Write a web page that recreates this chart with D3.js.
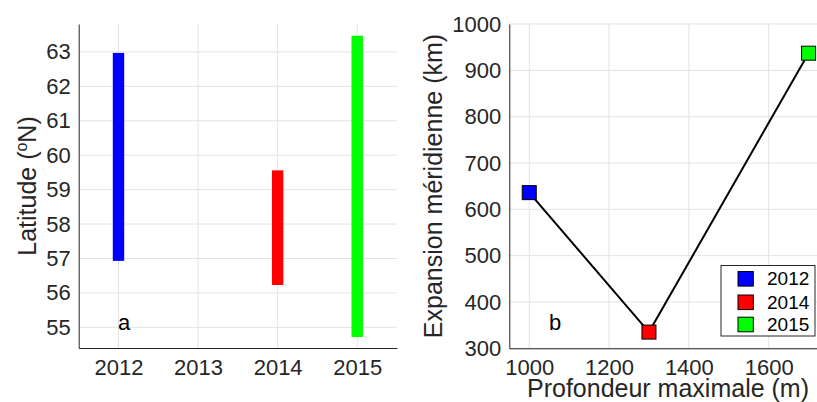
<!DOCTYPE html>
<html><head><meta charset="utf-8">
<script src="https://cdn.jsdelivr.net/npm/d3@7"></script>
<style>body{margin:0;background:#fff}svg{display:block}text{font-family:"Liberation Sans",Arial,Helvetica,sans-serif}</style>
</head><body>
<script>
// ---- data ----
const years = [2012, 2014, 2015];
const colors = ["#0000ff", "#ff0000", "#00ff00"];
const latMin = [56.93, 56.23, 54.72];
const latMax = [62.97, 59.56, 63.47];
const depth = [1000, 1300, 1700];
const expansion = [636, 335, 937];
const yearTicks = [2012, 2013, 2014, 2015];
const latTicks = [55, 56, 57, 58, 59, 60, 61, 62, 63];
const depthTicks = [1000, 1200, 1400, 1600];
const expTicks = [300, 400, 500, 600, 700, 800, 900, 1000];

const W = 817, H = 402;
const svg = d3.select("body").append("svg").attr("width", W).attr("height", H);
const axisColor = "#262626", gridColor = "#e3e3e3";

function styleAxis(g) {
  g.selectAll("path.domain").attr("stroke", axisColor).attr("stroke-width", 1);
  g.selectAll("text").attr("fill", axisColor).attr("font-size", 22)
    .attr("font-family", '"Liberation Sans",Arial,Helvetica,sans-serif');
}

// ---- panel a ----
const xa = d3.scaleLinear().domain([2011.5, 2015.5]).range([78.7, 397]);
const ya = d3.scaleLinear().domain([54.4, 63.81]).range([348, 24]);
const ga = svg.append("g");
ga.append("g").selectAll("line").data(yearTicks).join("line")
  .attr("x1", d => xa(d)).attr("x2", d => xa(d)).attr("y1", ya.range()[0]).attr("y2", ya.range()[1])
  .attr("stroke", gridColor);
ga.append("g").selectAll("line").data(latTicks).join("line")
  .attr("y1", d => ya(d)).attr("y2", d => ya(d)).attr("x1", xa.range()[0]).attr("x2", xa.range()[1])
  .attr("stroke", gridColor);
ga.selectAll("rect.bar").data(years).join("rect").attr("class", "bar")
  .attr("x", d => xa(d) - 5.7).attr("width", 11.4)
  .attr("y", (d, i) => ya(latMax[i])).attr("height", (d, i) => ya(latMin[i]) - ya(latMax[i]))
  .attr("fill", (d, i) => colors[i]);
ga.append("g").attr("transform", `translate(0,${ya.range()[0]})`)
  .call(d3.axisBottom(xa).tickValues(yearTicks).tickFormat(d3.format("d")).tickSize(0).tickPadding(11))
  .call(styleAxis);
ga.append("g").attr("transform", `translate(${xa.range()[0]},0)`)
  .call(d3.axisLeft(ya).tickValues(latTicks).tickFormat(d3.format("d")).tickSize(0).tickPadding(8))
  .call(styleAxis);
const la = ga.append("text").attr("transform", "translate(36,186) rotate(-90)")
  .attr("text-anchor", "middle").attr("font-size", 25).attr("fill", axisColor);
la.append("tspan").text("Latitude (");
la.append("tspan").attr("font-size", 16).attr("dy", -9).text("o");
la.append("tspan").attr("dy", 9).text("N)");
ga.append("text").attr("x", 124).attr("y", 330).attr("text-anchor", "middle")
  .attr("font-size", 22).attr("fill", "#000").text("a");

// ---- panel b ----
const xb = d3.scaleLinear().domain([950, 1750]).range([509.3, 828.5]);
const yb = d3.scaleLinear().domain([300, 1000]).range([348.3, 24]);
const gb = svg.append("g");
gb.append("g").selectAll("line").data(depthTicks).join("line")
  .attr("x1", d => xb(d)).attr("x2", d => xb(d)).attr("y1", yb.range()[0]).attr("y2", yb.range()[1])
  .attr("stroke", gridColor);
gb.append("g").selectAll("line").data(expTicks).join("line")
  .attr("y1", d => yb(d)).attr("y2", d => yb(d)).attr("x1", xb.range()[0]).attr("x2", xb.range()[1])
  .attr("stroke", gridColor);
gb.append("g").attr("transform", `translate(0,${yb.range()[0]})`)
  .call(d3.axisBottom(xb).tickValues(depthTicks).tickFormat(d3.format("d")).tickSize(0).tickPadding(11))
  .call(styleAxis);
gb.append("g").attr("transform", `translate(${xb.range()[0]},0)`)
  .call(d3.axisLeft(yb).tickValues(expTicks).tickFormat(d3.format("d")).tickSize(0).tickPadding(8))
  .call(styleAxis);
const pts = depth.map((d, i) => [xb(d), yb(expansion[i])]);
gb.append("path").attr("d", d3.line()(pts)).attr("fill", "none").attr("stroke", "#000").attr("stroke-width", 2);
gb.selectAll("rect.mk").data(depth).join("rect").attr("class", "mk")
  .attr("x", (d, i) => xb(d) - 7).attr("y", (d, i) => yb(expansion[i]) - 7)
  .attr("width", 14).attr("height", 14)
  .attr("fill", (d, i) => colors[i]).attr("stroke", "#000").attr("stroke-width", 1);
gb.append("text").attr("transform", "translate(442,186) rotate(-90)")
  .attr("text-anchor", "middle").attr("font-size", 25).attr("fill", axisColor)
  .text("Expansion méridienne (km)");
gb.append("text").attr("x", 668).attr("y", 397).attr("text-anchor", "middle")
  .attr("font-size", 25).attr("fill", axisColor).text("Profondeur maximale (m)");
gb.append("text").attr("x", 555).attr("y", 330).attr("text-anchor", "middle")
  .attr("font-size", 22).attr("fill", "#000").text("b");

// legend
const lg = svg.append("g");
lg.append("rect").attr("x", 721).attr("y", 265.5).attr("width", 94).attr("height", 70.5)
  .attr("fill", "#fff").attr("stroke", axisColor).attr("stroke-width", 1);
const rows = [278.8, 302.3, 324.5];
years.forEach((y, i) => {
  lg.append("rect").attr("x", 738).attr("y", rows[i] - 7.3).attr("width", 15.3).attr("height", 14.6)
    .attr("fill", colors[i]).attr("stroke", "#000").attr("stroke-width", 1);
  lg.append("text").attr("x", 767).attr("y", rows[i] + 6.5).attr("font-size", 19)
    .attr("fill", "#000").text(String(y));
});
</script>
</body></html>
